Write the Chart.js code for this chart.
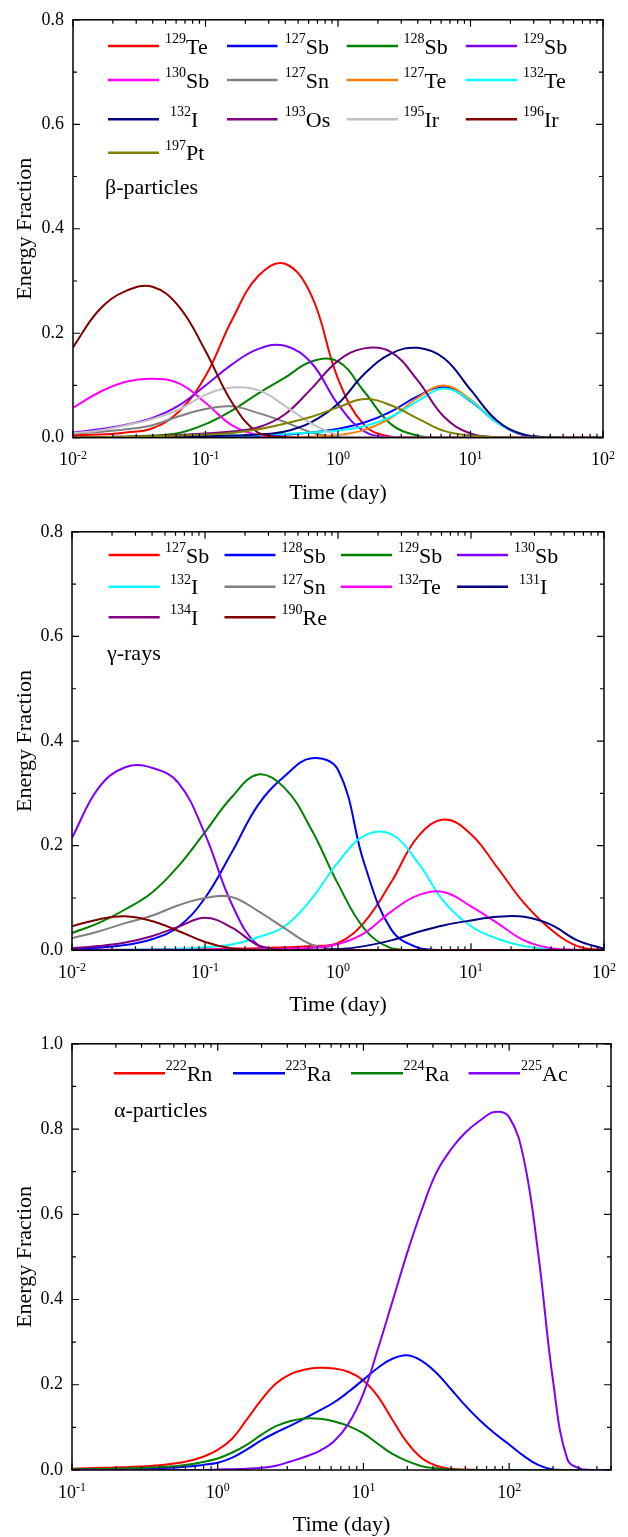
<!DOCTYPE html>
<html>
<head>
<meta charset="utf-8">
<script src="https://cdn.jsdelivr.net/npm/chart.js@4.4.0/dist/chart.umd.min.js"></script>
<style>
    body { margin: 0; background: #fff; width: 628px; height: 1537px; overflow: hidden; position: relative; }
    canvas { position: absolute; left: 0; }
</style>
</head>
<body>
<canvas id="chartBeta" width="628" height="512" style="top:0px"></canvas>
<canvas id="chartGamma" width="628" height="512" style="top:512px"></canvas>
<canvas id="chartAlpha" width="628" height="513" style="top:1024px"></canvas>
<script>
// time (day), five points per decade, shared by the beta and gamma panels
const tDays = [0.01, 0.0158, 0.0251, 0.0398, 0.0631, 0.1, 0.158, 0.251, 0.398, 0.631,
    1, 1.58, 2.51, 3.98, 6.31, 10, 15.8, 25.1, 39.8, 63.1, 100];

// beta-particles
const betaNames = ['129Te', '127Sb', '128Sb', '129Sb', '130Sb', '127Sn', '127Te', '132Te', '132I', '193Os', '195Ir', '196Ir', '197Pt'];
const beta129Te = [0.005, 0.006, 0.010, 0.018, 0.050, 0.118, 0.225, 0.310, 0.333, 0.272, 0.113, 0.024, 0.002, 0, 0, 0, 0, 0, 0, 0, 0];
const beta127Sb = [0, 0, 0.001, 0.001, 0.001, 0.002, 0.002, 0.003, 0.006, 0.010, 0.017, 0.029, 0.050, 0.079, 0.097, 0.070, 0.030, 0.005, 0.001, 0, 0];
const beta128Sb = [0.001, 0.001, 0.002, 0.004, 0.009, 0.026, 0.052, 0.085, 0.115, 0.146, 0.146, 0.088, 0.026, 0.004, 0, 0, 0, 0, 0, 0, 0];
const beta129Sb = [0.010, 0.016, 0.025, 0.038, 0.062, 0.100, 0.140, 0.170, 0.176, 0.143, 0.064, 0.012, 0.001, 0, 0, 0, 0, 0, 0, 0, 0];
const beta130Sb = [0.057, 0.087, 0.107, 0.113, 0.104, 0.067, 0.024, 0.005, 0.001, 0, 0, 0, 0, 0, 0, 0, 0, 0, 0, 0, 0];
const beta127Sn = [0.008, 0.011, 0.016, 0.024, 0.041, 0.055, 0.060, 0.047, 0.030, 0.010, 0.001, 0, 0, 0, 0, 0, 0, 0, 0, 0, 0];
const beta127Te = [0, 0, 0, 0, 0, 0, 0, 0, 0.001, 0.002, 0.005, 0.015, 0.038, 0.076, 0.100, 0.073, 0.030, 0.006, 0.001, 0, 0];
const beta132Te = [0, 0, 0.001, 0.001, 0.002, 0.003, 0.004, 0.005, 0.007, 0.010, 0.014, 0.022, 0.040, 0.070, 0.094, 0.071, 0.029, 0.006, 0.001, 0, 0];
const beta132I = [0, 0, 0.001, 0.001, 0.002, 0.003, 0.004, 0.006, 0.012, 0.030, 0.065, 0.122, 0.161, 0.172, 0.152, 0.092, 0.033, 0.006, 0.001, 0, 0];
const beta193Os = [0.001, 0.001, 0.002, 0.003, 0.005, 0.008, 0.012, 0.020, 0.045, 0.094, 0.147, 0.171, 0.164, 0.110, 0.040, 0.008, 0.001, 0, 0, 0, 0];
const beta195Ir = [0.009, 0.014, 0.024, 0.036, 0.054, 0.082, 0.096, 0.091, 0.061, 0.027, 0.005, 0, 0, 0, 0, 0, 0, 0, 0, 0, 0];
const beta196Ir = [0.173, 0.245, 0.281, 0.289, 0.251, 0.166, 0.068, 0.009, 0.001, 0, 0, 0, 0, 0, 0, 0, 0, 0, 0, 0, 0];
const beta197Pt = [0.001, 0.001, 0.002, 0.003, 0.004, 0.006, 0.009, 0.016, 0.027, 0.040, 0.058, 0.074, 0.062, 0.037, 0.013, 0.004, 0.001, 0, 0, 0, 0];
const betaColors = ['#ff0000', '#0000ff', '#008000', '#8000ff', '#ff00ff', '#808080', '#ff8000', '#00ffff', '#000080', '#800080', '#c0c0c0', '#800000', '#808000'];

// gamma-rays
const gammaNames = ['127Sb', '128Sb', '129Sb', '130Sb', '132I', '127Sn', '132Te', '131I', '134I', '190Re'];
const gamma127Sb = [0.001, 0.001, 0.001, 0.001, 0.002, 0.002, 0.003, 0.004, 0.006, 0.008, 0.014, 0.054, 0.130, 0.217, 0.250, 0.222, 0.158, 0.090, 0.040, 0.008, 0];
const gamma128Sb = [0.004, 0.005, 0.010, 0.021, 0.045, 0.100, 0.186, 0.278, 0.333, 0.367, 0.345, 0.165, 0.040, 0.005, 0, 0, 0, 0, 0, 0, 0];
const gamma129Sb = [0.033, 0.052, 0.078, 0.110, 0.161, 0.226, 0.292, 0.336, 0.310, 0.231, 0.127, 0.041, 0.004, 0, 0, 0, 0, 0, 0, 0, 0];
const gamma130Sb = [0.215, 0.310, 0.350, 0.349, 0.320, 0.222, 0.090, 0.009, 0.001, 0, 0, 0, 0, 0, 0, 0, 0, 0, 0, 0, 0];
const gamma132I = [0, 0, 0.001, 0.002, 0.003, 0.006, 0.011, 0.025, 0.046, 0.098, 0.168, 0.219, 0.222, 0.168, 0.092, 0.046, 0.022, 0.008, 0.002, 0, 0];
const gamma127Sn = [0.023, 0.036, 0.052, 0.066, 0.086, 0.100, 0.102, 0.075, 0.042, 0.011, 0.002, 0, 0, 0, 0, 0, 0, 0, 0, 0, 0];
const gamma132Te = [0, 0, 0, 0.001, 0.001, 0.001, 0.002, 0.002, 0.003, 0.005, 0.012, 0.033, 0.074, 0.105, 0.111, 0.084, 0.052, 0.019, 0.004, 0.001, 0];
const gamma131I = [0, 0, 0, 0, 0, 0, 0, 0, 0, 0.001, 0.002, 0.008, 0.019, 0.035, 0.048, 0.057, 0.064, 0.064, 0.049, 0.019, 0.003];
const gamma134I = [0.004, 0.008, 0.015, 0.027, 0.045, 0.062, 0.044, 0.010, 0.001, 0, 0, 0, 0, 0, 0, 0, 0, 0, 0, 0, 0];
const gamma190Re = [0.046, 0.059, 0.065, 0.056, 0.037, 0.016, 0.004, 0.001, 0, 0, 0, 0, 0, 0, 0, 0, 0, 0, 0, 0, 0];
const gammaColors = ['#ff0000', '#0000ff', '#008000', '#8000ff', '#00ffff', '#808080', '#ff00ff', '#000080', '#800080', '#800000'];

// alpha-particles, ten points per decade
const tAlpha = [0.1, 0.126, 0.158, 0.2, 0.251, 0.316, 0.398, 0.501, 0.631, 0.794,
    1, 1.26, 1.58, 2, 2.51, 3.16, 3.98, 5.01, 6.31, 7.94,
    10, 12.6, 15.8, 20, 25.1, 31.6, 39.8, 50.1, 63.1, 79.4,
    100, 126, 158, 200, 251, 316, 398, 500];
const alphaNames = ['222Rn', '223Ra', '224Ra', '225Ac'];
const alpha222Rn = [0.003, 0.004, 0.005, 0.006, 0.007, 0.009, 0.011, 0.015, 0.021, 0.031,
    0.047, 0.074, 0.118, 0.165, 0.203, 0.225, 0.236, 0.240, 0.238, 0.230,
    0.210, 0.172, 0.118, 0.064, 0.028, 0.010, 0.003, 0.001, 0, 0,
    0, 0, 0, 0, 0, 0, 0, 0];
const alpha223Ra = [0.001, 0.001, 0.002, 0.002, 0.003, 0.003, 0.004, 0.006, 0.008, 0.012,
    0.017, 0.029, 0.048, 0.070, 0.088, 0.104, 0.122, 0.140, 0.159, 0.184,
    0.212, 0.240, 0.261, 0.269, 0.256, 0.228, 0.190, 0.151, 0.116, 0.086,
    0.060, 0.033, 0.012, 0.001, 0, 0, 0, 0];
const alpha224Ra = [0.002, 0.002, 0.003, 0.003, 0.004, 0.005, 0.007, 0.009, 0.013, 0.019,
    0.027, 0.041, 0.059, 0.083, 0.103, 0.115, 0.121, 0.120, 0.114, 0.103,
    0.086, 0.061, 0.038, 0.021, 0.009, 0.004, 0.001, 0, 0, 0,
    0, 0, 0, 0, 0, 0, 0, 0];
const alpha225Ac = [0, 0, 0, 0, 0, 0, 0, 0, 0, 0,
    0.001, 0.002, 0.003, 0.005, 0.010, 0.020, 0.031, 0.045, 0.068, 0.110,
    0.180, 0.285, 0.395, 0.510, 0.610, 0.697, 0.752, 0.792, 0.820, 0.840,
    0.828, 0.730, 0.510, 0.210, 0.025, 0.002, 0, 0];
const alphaColors = ['#ff0000', '#0000ff', '#008000', '#8000ff'];

const serif = '"Liberation Serif", "Times New Roman", serif';

// frame, inward ticks, x labels with superscripts, legend and titles
const decoPlugin = {
    id: 'deco',
    afterDraw(chart, args, o) {
        const ctx = chart.ctx;
        const a = chart.chartArea;
        const xs = chart.scales.x;
        const ys = chart.scales.y;
        ctx.save();
        ctx.strokeStyle = '#000';
        ctx.lineWidth = 1.5;
        ctx.strokeRect(a.left, a.top, a.right - a.left, a.bottom - a.top);

        ctx.lineWidth = 1.2;
        ctx.beginPath();
        const e0 = Math.floor(Math.log10(xs.min));
        const e1 = Math.ceil(Math.log10(xs.max));
        for (let e = e0; e <= e1; e++) {
            for (let m = 1; m < 10; m++) {
                const v = m * Math.pow(10, e);
                if (v < xs.min * 0.999 || v > xs.max * 1.001) continue;
                const px = xs.getPixelForValue(v);
                const len = m === 1 ? 7 : 4;
                ctx.moveTo(px, a.bottom); ctx.lineTo(px, a.bottom - len);
                ctx.moveTo(px, a.top); ctx.lineTo(px, a.top + len);
            }
        }
        for (let k = 0; k <= Math.round(ys.max * 10); k++) {
            const py = ys.getPixelForValue(k / 10);
            const len = k % 2 === 0 ? 7 : 4;
            ctx.moveTo(a.left, py); ctx.lineTo(a.left + len, py);
            ctx.moveTo(a.right, py); ctx.lineTo(a.right - len, py);
        }
        ctx.stroke();

        // x tick labels 10^n
        ctx.fillStyle = '#000';
        ctx.textBaseline = 'alphabetic';
        ctx.textAlign = 'left';
        for (let e = e0; e <= e1; e++) {
            const v = Math.pow(10, e);
            if (v < xs.min * 0.999 || v > xs.max * 1.001) continue;
            const px = xs.getPixelForValue(v);
            ctx.font = '18px ' + serif;
            const wb = ctx.measureText('10').width;
            ctx.font = '12px ' + serif;
            const ws = ctx.measureText(String(e)).width;
            const x0 = px - (wb + ws) / 2;
            ctx.font = '18px ' + serif;
            ctx.fillText('10', x0, a.bottom + 27.5);
            ctx.font = '12px ' + serif;
            ctx.fillText(String(e), x0 + wb, a.bottom + 21);
        }

        // axis titles
        ctx.font = '22px ' + serif;
        ctx.textAlign = 'center';
        ctx.textBaseline = 'middle';
        ctx.fillText('Time (day)', (a.left + a.right) / 2, o.titleY);
        ctx.save();
        ctx.translate(o.yTitleX, (a.top + a.bottom) / 2);
        ctx.rotate(-Math.PI / 2);
        ctx.fillText('Energy Fraction', 0, 0);
        ctx.restore();

        // legend
        ctx.textAlign = 'left';
        ctx.textBaseline = 'alphabetic';
        chart.data.datasets.forEach(function(ds, i) {
            const col = i % 4;
            const y = o.rows[Math.floor(i / 4)];
            ctx.strokeStyle = ds.borderColor;
            ctx.lineWidth = 2.5;
            ctx.beginPath();
            ctx.moveTo(o.lineX[col][0], y);
            ctx.lineTo(o.lineX[col][1], y);
            ctx.stroke();
            const parts = ds.label.match(/^(\d+)(.*)$/);
            let x = o.textX[col] + (parts[2] === 'I' ? 5 : 0);
            ctx.font = '14px ' + serif;
            ctx.fillText(parts[1], x, y - 3);
            x += ctx.measureText(parts[1]).width;
            ctx.font = '22px ' + serif;
            ctx.fillText(parts[2], x, y + 7.5);
        });

        ctx.font = '22px ' + serif;
        ctx.textBaseline = 'middle';
        ctx.fillText(o.note, o.noteX, o.noteY);
        ctx.restore();
    }
};

function buildChart(id, times, names, series, colors, xMin, xMax, yMax, box, deco) {
    const datasets = names.map(function(name, i) {
        return {
            label: name,
            data: times.map(function(t, j) { return { x: t, y: series[i][j] }; }),
            borderColor: colors[i],
            backgroundColor: colors[i],
            borderWidth: 2,
            pointRadius: 0,
            fill: false,
            tension: 0.4,
            order: -i
        };
    });
    const canvas = document.getElementById(id);
    new Chart(canvas, {
        type: 'line',
        data: { datasets: datasets },
        options: {
            responsive: false,
            animation: false,
            layout: { padding: { top: box.top, right: canvas.width - box.right, left: 0, bottom: 0 } },
            plugins: {
                legend: { display: false },
                tooltip: { enabled: false },
                deco: deco
            },
            scales: {
                x: {
                    type: 'logarithmic',
                    min: xMin,
                    max: xMax,
                    grid: { display: false, drawTicks: false },
                    border: { display: false },
                    ticks: { display: false },
                    afterFit: function(scale) { scale.height = canvas.height - box.bottom; }
                },
                y: {
                    min: 0,
                    max: yMax,
                    grid: { display: false, drawTicks: false },
                    border: { display: false },
                    ticks: {
                        stepSize: 0.2,
                        padding: 9,
                        color: '#000',
                        font: { family: serif, size: 18 },
                        callback: function(v) { return Number(v).toFixed(1); }
                    },
                    afterFit: function(scale) { scale.width = box.left; }
                }
            }
        },
        plugins: [decoPlugin]
    });
}

document.addEventListener("DOMContentLoaded", function() {
    buildChart('chartBeta', tDays, betaNames,
        [beta129Te, beta127Sb, beta128Sb, beta129Sb, beta130Sb, beta127Sn, beta127Te, beta132Te, beta132I, beta193Os, beta195Ir, beta196Ir, beta197Pt],
        betaColors, 0.01, 100, 0.8,
        { left: 73, right: 603, top: 13.3, bottom: 437.7 },
        {
            lineX: [[108, 159], [227, 277.5], [346.7, 398], [465.8, 517]],
            textX: [165, 284.8, 403.5, 523],
            rows: [46, 80, 119.3, 152.7],
            note: 'β-particles', noteX: 105, noteY: 188,
            titleY: 493, yTitleX: 25
        });

    buildChart('chartGamma', tDays, gammaNames,
        [gamma127Sb, gamma128Sb, gamma129Sb, gamma130Sb, gamma132I, gamma127Sn, gamma132Te, gamma131I, gamma134I, gamma190Re],
        gammaColors, 0.01, 100, 0.8,
        { left: 72, right: 604, top: 12, bottom: 438.3 },
        {
            lineX: [[108.6, 159.7], [224.5, 275.5], [341, 392], [457, 508]],
            textX: [165, 281.6, 398, 514],
            rows: [43, 74.7, 105.3],
            note: 'γ-rays', noteX: 107, noteY: 142,
            titleY: 493, yTitleX: 25
        });

    buildChart('chartAlpha', tAlpha, alphaNames,
        [alpha222Rn, alpha223Ra, alpha224Ra, alpha225Ac],
        alphaColors, 0.1, 500, 1.0,
        { left: 72, right: 611, top: 10, bottom: 446 },
        {
            lineX: [[113.8, 165], [233, 285], [351, 403], [468.6, 520]],
            textX: [165.7, 285.6, 403.5, 521],
            rows: [49.3],
            note: 'α-particles', noteX: 114, noteY: 87,
            titleY: 501, yTitleX: 25
        });
});
</script>
</body>
</html>
